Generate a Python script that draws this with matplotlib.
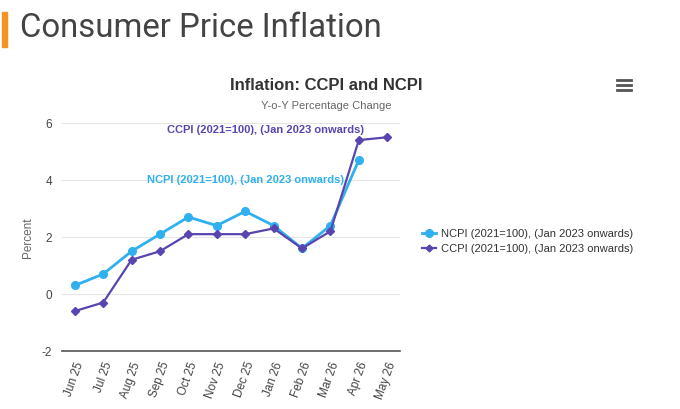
import matplotlib
matplotlib.use("Agg")
import matplotlib.pyplot as plt
from matplotlib.lines import Line2D
from matplotlib.patches import Rectangle
import numpy as np

months = ["Jun 25", "Jul 25", "Aug 25", "Sep 25", "Oct 25", "Nov 25",
          "Dec 25", "Jan 26", "Feb 26", "Mar 26", "Apr 26", "May 26"]
ncpi = [0.3, 0.7, 1.5, 2.1, 2.7, 2.4, 2.9, 2.4, 1.6, 2.4, 4.7, np.nan]
ccpi = [-0.6, -0.3, 1.2, 1.5, 2.1, 2.1, 2.1, 2.3, 1.6, 2.2, 5.4, 5.5]
yticks = [-2, 0, 2, 4, 6]
ncpi_name = "NCPI (2021=100), (Jan 2023 onwards)"
ccpi_name = "CCPI (2021=100), (Jan 2023 onwards)"

W, H = 680, 410
fig = plt.figure(figsize=(W / 100, H / 100), dpi=100)
plt.rcParams['font.family'] = ['Liberation Sans', 'DejaVu Sans']

ncol = "#2fb0ef"
ccol = "#5a45b0"

# plot area: x 62..400, y 124 (6) .. 352 (-2)
ax = fig.add_axes([62 / W, 1 - 352 / H, (400 - 62) / W, (352 - 124) / H])
x = np.arange(len(months))
ax.plot(x, ncpi, color=ncol, lw=2, marker='o', ms=5.5, label=ncpi_name, zorder=3)
ax.plot(x, ccpi, color=ccol, lw=1.6, marker='D', ms=4, label=ccpi_name, zorder=4)
ax.set_xlim(-0.45, len(months) - 1 + 0.45)
ax.set_ylim(-2, 6)
ax.set_yticks(yticks)
ax.set_yticklabels([str(v) for v in yticks], color="#444444", fontsize=8.5)
ax.set_xticks(x)
ax.set_xticklabels(months, rotation=70, ha='right', rotation_mode='anchor',
                   fontsize=8.5, color="#444444")
ax.tick_params(axis='both', length=0, pad=7)
ax.tick_params(axis='x', pad=6)
ax.grid(axis='y', color="#e6e6e6", lw=0.8)
ax.set_axisbelow(True)
for s in ['top', 'right', 'left']:
    ax.spines[s].set_visible(False)
ax.spines['bottom'].set_color("#555555")
ax.spines['bottom'].set_linewidth(1.2)
ax.set_ylabel("Percent", color="#666666", fontsize=8.5, labelpad=6)

# series labels
ax.annotate(ccpi_name, xy=(6.72, 5.78), color=ccol, fontsize=8, fontweight='bold',
            ha='center', va='center')
ax.annotate(ncpi_name, xy=(6.0, 4.05), color=ncol, fontsize=8, fontweight='bold',
            ha='center', va='center')

# legend
handles = [Line2D([0], [0], color=ncol, lw=2, marker='o', ms=5.5),
           Line2D([0], [0], color=ccol, lw=1.6, marker='D', ms=3.5)]
fig.legend(handles, [ncpi_name, ccpi_name], loc='center left',
           bbox_to_anchor=(412 / W, 1 - 242 / H), frameon=False, fontsize=8,
           handlelength=1.3, handletextpad=0.4, labelspacing=0.45,
           labelcolor="#333333")

# titles
fig.text(20 / W, 1 - 28 / H, "Consumer Price Inflation", fontsize=23.7,
         family=['Roboto', 'DejaVu Sans'], color="#444444", va='center', ha='left')
fig.patches.append(Rectangle((2 / W, 1 - 48 / H), 5 / W, 35 / H,
                             transform=fig.transFigure, color="#f39321"))
fig.text(326 / W, 1 - 86 / H, "Inflation: CCPI and NCPI", fontsize=12,
         fontweight='bold', color="#333333", ha='center', va='center')
fig.text(326 / W, 1 - 106 / H, "Y-o-Y Percentage Change", fontsize=8,
         color="#666666", ha='center', va='center')

# menu icon
for dy in (81, 86, 91):
    fig.lines.append(Line2D([617 / W, 631 / W], [1 - dy / H, 1 - dy / H],
                            transform=fig.transFigure, color="#555555", lw=2))

fig.savefig("out.png", dpi=100)
